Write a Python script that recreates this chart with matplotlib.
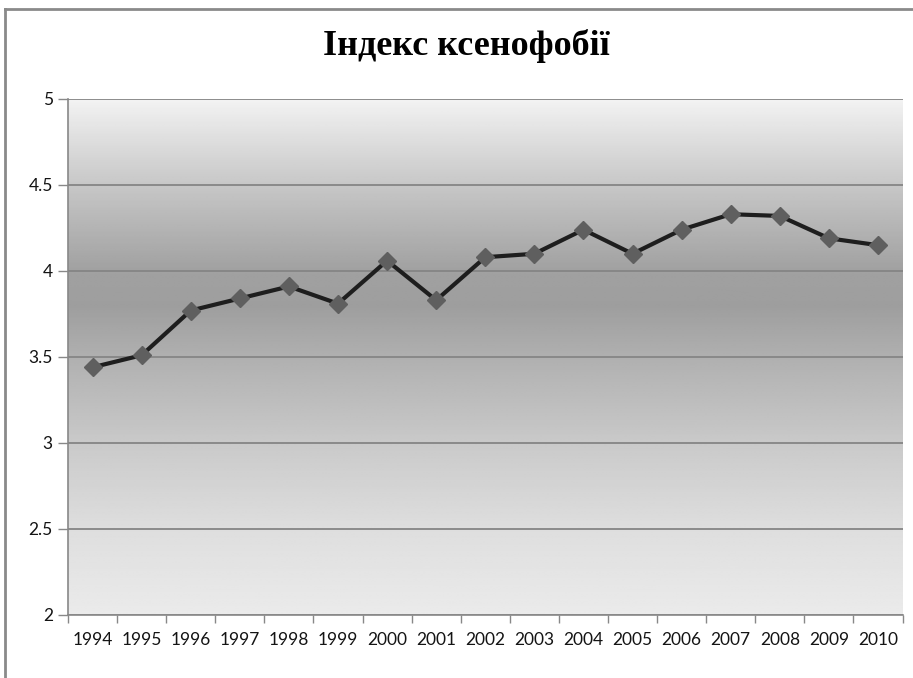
import numpy as np
import matplotlib.pyplot as plt
from matplotlib.lines import Line2D
from matplotlib.ticker import FuncFormatter

# Data
years = ['1994', '1995', '1996', '1997', '1998', '1999', '2000', '2001', '2002',
         '2003', '2004', '2005', '2006', '2007', '2008', '2009', '2010']
xenophobia_index = [3.44, 3.51, 3.77, 3.84, 3.91, 3.81, 4.06, 3.83, 4.08,
                    4.10, 4.24, 4.10, 4.24, 4.33, 4.32, 4.19, 4.15]
y_ticks = [2, 2.5, 3, 3.5, 4, 4.5, 5]
title = 'Індекс ксенофобії'


def draw_background(ax):
    # vertical grey gradient: light at the top, darkest near 3.8, light again at the bottom
    stops_y = [2.0, 2.5, 3.0, 3.5, 3.8, 4.0, 4.5, 5.0]
    stops_c = [0.92, 0.87, 0.79, 0.69, 0.62, 0.63, 0.78, 0.95]
    yy = np.linspace(2, 5, 300)
    shade = np.interp(yy, stops_y, stops_c)
    img = np.repeat(shade[:, None], 2, axis=1)
    ax.imshow(img, cmap='gray', vmin=0, vmax=1, origin='lower', aspect='auto',
              extent=(-0.5, len(years) - 0.5, 2, 5), zorder=0, interpolation='bilinear')


def main():
    fig = plt.figure(figsize=(9.13, 6.78), dpi=100)
    ax = fig.add_axes([0.0745, 0.093, 0.914, 0.761])

    draw_background(ax)

    x = np.arange(len(years))
    ax.plot(x, xenophobia_index, color='#1e1e1e', lw=3, zorder=3)
    ax.plot(x, xenophobia_index, ls='none', marker='D', ms=9,
            color='#5f5f5f', zorder=4)

    ax.set_xlim(-0.5, len(years) - 0.5)
    ax.set_ylim(2, 5)
    ax.set_yticks(y_ticks)
    ax.yaxis.set_major_formatter(FuncFormatter(lambda v, p: f'{v:g}'))
    ax.yaxis.grid(True, color='#858585', lw=1.3, zorder=1)
    ax.set_axisbelow(False)

    ax.set_xticks(x)
    ax.set_xticklabels(years)
    ax.set_xticks(np.arange(-0.5, len(years)), minor=True)
    ax.tick_params(axis='x', which='major', length=0, pad=12)
    ax.tick_params(axis='x', which='minor', length=6, color='#888888', width=1)
    ax.tick_params(axis='y', length=7, color='#888888', width=1, pad=4)

    for lab in ax.get_xticklabels() + ax.get_yticklabels():
        lab.set_fontfamily('Lato')
        lab.set_fontsize(12.5)
        lab.set_color('#141414')

    for side in ['top', 'right']:
        ax.spines[side].set_visible(False)
    for side in ['left', 'bottom']:
        ax.spines[side].set_color('#888888')
        ax.spines[side].set_linewidth(1.2)
    ax.spines['bottom'].set_zorder(5)

    fig.text(0.511, 0.932, title, ha='center', va='center',
             fontfamily='Liberation Serif', fontweight='bold', fontsize=26)

    # frame of the chart area (top and left edges visible in the reference)
    fig.add_artist(Line2D([0.0055, 1.0], [0.987, 0.987], color='#8a8a8a', lw=2))
    fig.add_artist(Line2D([0.0055, 0.0055], [0.0, 0.987], color='#8a8a8a', lw=2))

    fig.savefig('out.png', dpi=100)


if __name__ == '__main__':
    main()
